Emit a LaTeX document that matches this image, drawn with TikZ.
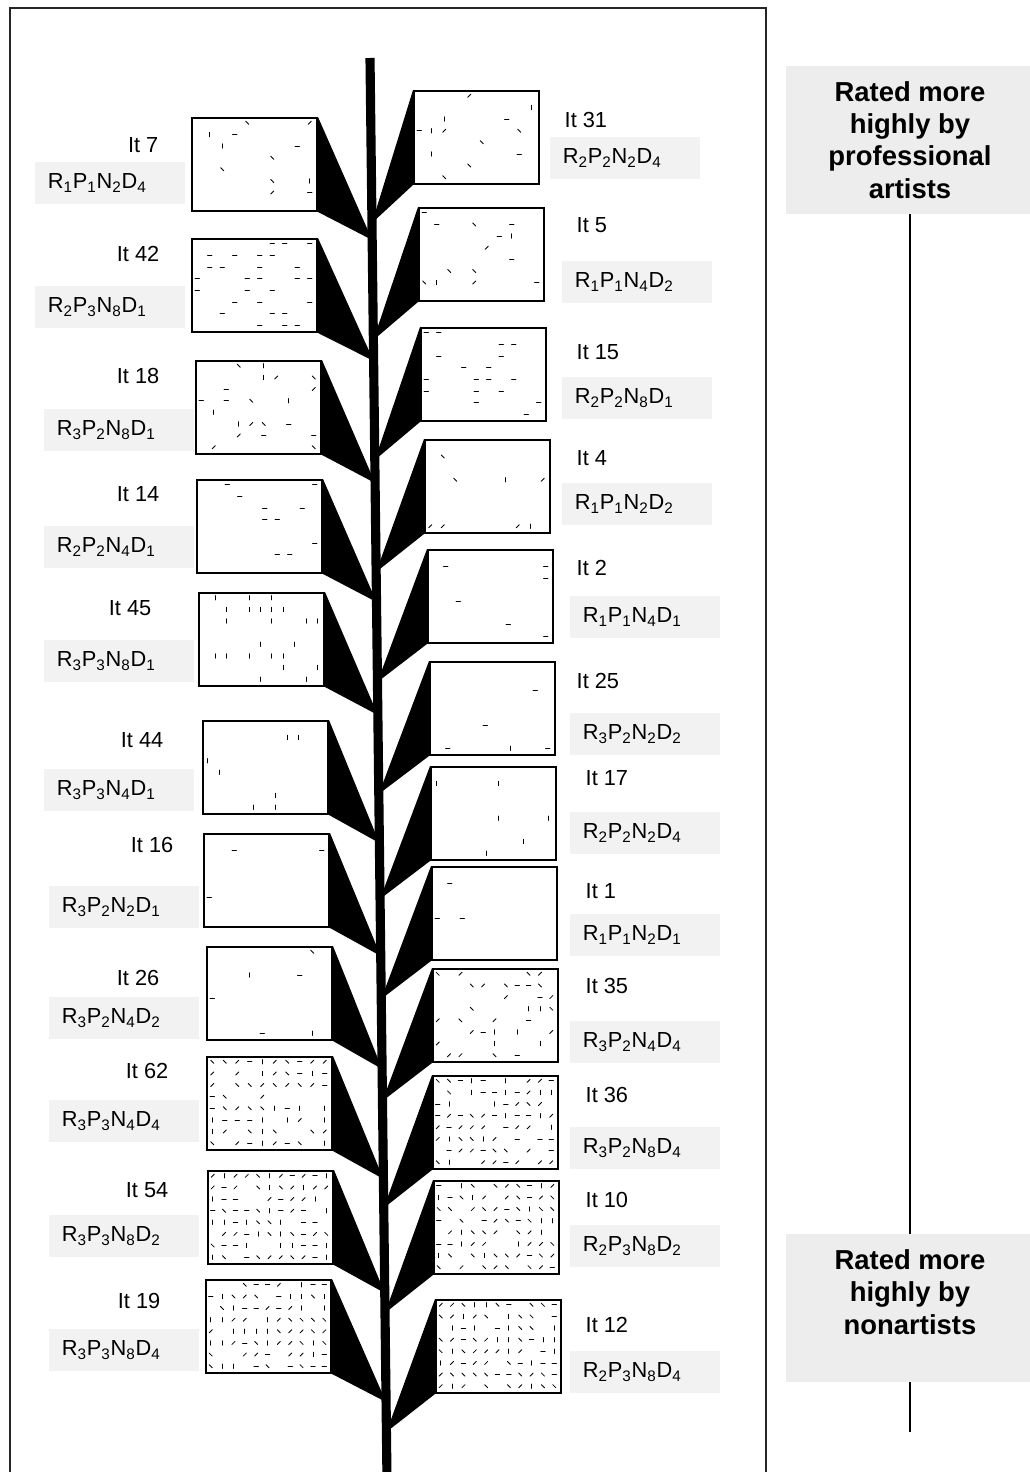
\documentclass[tikz,border=0pt]{standalone}
\usepackage{fontspec}
\setmainfont{Liberation Sans}
\usetikzlibrary{calc}

% Stimulus code, e.g. \rpnd1124 gives R1P1N2D4 with subscripts.
\newcommand\rpnd[4]{R\textsubscript{#1}P\textsubscript{#2}N\textsubscript{#3}D\textsubscript{#4}}

% Small line elements inside a stimulus box:
% #1 box, #2 columns, #3 rows, #4 percent kept, #5 base angle, #6 extra 45deg steps, #7 seed.
\newcommand\texture[7]{%
  \pgfmathsetseed{#7}%
  \foreach \i in {1,...,#2}{
    \foreach \j in {1,...,#3}{
      \pgfmathrandominteger{\keep}{1}{100}
      \pgfmathrandominteger{\tilt}{0}{#6}
      \ifnum\keep>#4\relax\else
        \path (#1.north west) ++({(\i-0.5)*125/#2},{(\j-0.5)*93/#3}) coordinate (p);
        \draw[speck] (p) ++({#5+45*\tilt}:2.2) -- ++({#5+45*\tilt+180}:4.4);
      \fi
    }
  }%
}

\begin{document}
\begin{tikzpicture}[x=0.025cm,y=-0.025cm,
    item/.style={draw,fill=white,line width=1.4pt,anchor=north west,inner sep=0pt,
      minimum width=3.125cm,minimum height=2.325cm},
    speck/.style={line width=0.6pt,line cap=round},
    leaf/.style={fill=black},
    stem/.style={line width=6.5pt},
    tag/.style={font=\fontsize{15.5}{18}\selectfont,inner sep=1pt},
    code/.style={tag,fill=black!5,anchor=west,text width=3.1cm,align=left,
      inner xsep=9pt,minimum height=1.05cm},
    panel/.style={fill=black!7,minimum width=6.2cm,minimum height=3.7cm},
    verdict/.style={font=\fontsize{19.5}{23}\selectfont\bfseries,align=center},
    rule/.style={line width=1pt}]

  \useasboundingbox (0,0) rectangle (1030,1472);
  \draw[line width=0.9pt,black!85] (10,8) rectangle (766,1490);

  % The stem.
  \coordinate (stemtop) at (370,58);
  \coordinate (stembot) at (387,1480);
  \draw[stem] (stemtop) -- (stembot);

  % Left side: box corner, "It" label, code label.
  \foreach \n/\bx/\by/\ix/\iy/\cx/\cy/\c in {
      7/191/117/160/145/48/183/1124,
      42/191/238/161/254/48/307/2381,
      18/195/360/161/376/57/430/3281,
      14/196/479/161/494/57/547/2241,
      45/198/592/153/608/57/661/3381,
      44/202/720/165/740/57/790/3341,
      16/203/833/175/845/62/907/3221,
      26/206/946/161/978/62/1018/3242,
      62/206/1056/170/1071/62/1121/3344,
      54/207/1170/170/1190/62/1236/3382,
      19/205/1279/162/1301/62/1350/3384
  }{
      \node[item] (b\n) at (\bx,\by) {};
      \fill[leaf] (b\n.north east) -- (b\n.south east)
        -- ($(stemtop)!{(\by+123-58)/1422}!(stembot)$) -- cycle;
      \node[tag,anchor=east] (it\n) at (\ix,\iy) {It \n};
      \node[code] (c\n) at (\cx-13,\cy) {\expandafter\rpnd\c};
  }

  % Right side.
  \foreach \n/\bx/\by/\ix/\iy/\cx/\cy/\c in {
      31/413/90/563/120/563/158/2224,
      5/418/207/575/225/575/282/1142,
      15/420/327/575/352/575/398/2281,
      4/424/439/575/458/575/504/1122,
      2/427/549/575/568/583/617/1141,
      25/429/661/575/681/583/734/3222,
      17/430/766/584/778/583/833/2224,
      1/431/866/584/891/583/935/1121,
      35/432/968/584/986/583/1042/3244,
      36/432/1075/584/1095/583/1148/3284,
      10/433/1180/584/1200/583/1246/2382,
      12/435/1299/584/1325/583/1372/2384
  }{
      \node[item] (b\n) at (\bx,\by) {};
      \fill[leaf] ($(stemtop)!{(\by+133-58)/1422}!(stembot)$)
        -- (b\n.north west) -- (b\n.south west) -- cycle;
      \node[tag,anchor=west] (it\n) at (\ix,\iy) {It \n};
      \node[code] (c\n) at (\cx-13,\cy) {\expandafter\rpnd\c};
  }

  % Line elements in the boxes.
  \texture{b7}{10}{8}{8}{0}{3}{7}
  \texture{b42}{10}{8}{35}{0}{0}{42}
  \texture{b18}{10}{8}{16}{0}{3}{18}
  \texture{b14}{10}{8}{8}{0}{0}{14}
  \texture{b45}{11}{8}{35}{90}{0}{45}
  \texture{b44}{11}{8}{15}{90}{0}{44}
  \texture{b16}{10}{8}{5}{0}{0}{16}
  \texture{b26}{10}{8}{15}{0}{2}{26}
  \texture{b62}{10}{8}{75}{0}{3}{62}
  \texture{b54}{11}{8}{80}{0}{3}{54}
  \texture{b19}{11}{8}{85}{0}{3}{19}
  \texture{b31}{10}{8}{15}{0}{3}{31}
  \texture{b5}{10}{8}{10}{0}{3}{5}
  \texture{b15}{10}{8}{20}{0}{0}{15}
  \texture{b4}{10}{8}{10}{0}{3}{4}
  \texture{b2}{10}{8}{6}{0}{0}{2}
  \texture{b25}{10}{8}{10}{0}{2}{25}
  \texture{b17}{10}{8}{10}{90}{0}{17}
  \texture{b1}{10}{8}{3}{0}{0}{1}
  \texture{b35}{11}{8}{45}{0}{3}{35}
  \texture{b36}{11}{8}{75}{0}{3}{36}
  \texture{b10}{11}{8}{85}{0}{3}{10}
  \texture{b12}{11}{8}{85}{0}{3}{12}

  % Scale on the right.
  \node[panel,verdict] (pro) at (910,140) {Rated more\\highly by\\professional\\artists};
  \node[panel] (nonpanel) at (910,1308) {};
  \node[verdict] (non) at (910,1292) {Rated more\\highly by\\nonartists};
  \coordinate (tail) at (910,1432);
  \draw[rule] (pro.south) -- (nonpanel.north);
  \draw[rule] (nonpanel.south) -- (tail);
\end{tikzpicture}
\end{document}
